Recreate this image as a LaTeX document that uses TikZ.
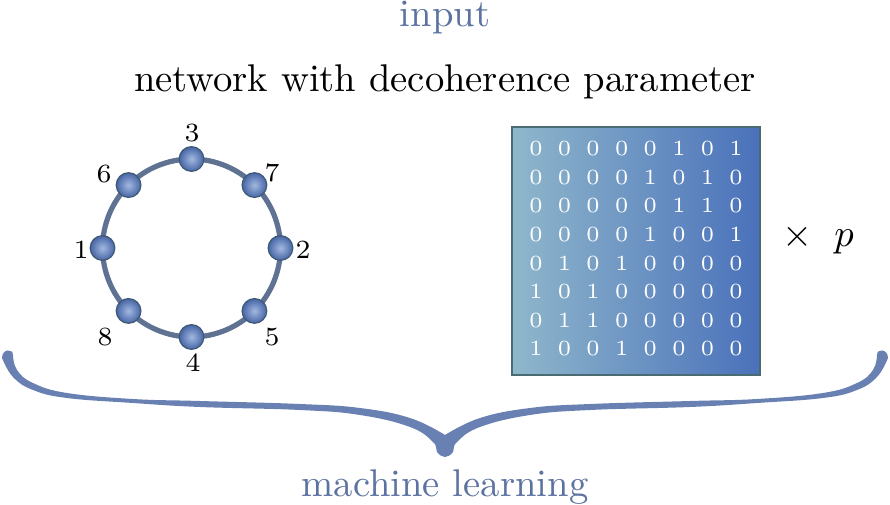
\documentclass[tikz,border=0pt]{standalone}
\usepackage{xcolor}
\usepackage{tikz}
\usetikzlibrary{positioning,matrix,backgrounds}
\definecolor{azulTexto}{HTML}{5C72A0}
\definecolor{azulChave}{HTML}{6881B2}
\definecolor{azulAnel}{HTML}{5F7292}
\definecolor{esferaClara}{HTML}{A2B9E0}
\definecolor{esferaEscura}{HTML}{4765A6}
\definecolor{contornoEsfera}{HTML}{3E5A72}
\definecolor{matrizClara}{HTML}{8FB7CB}
\definecolor{matrizEscura}{HTML}{4A71BA}
\definecolor{contornoMatriz}{HTML}{4B6B73}
\tikzset{
    vertice/.style={
        circle,
        draw=contornoEsfera,
        line width=0.3pt,
        inner sep=0pt,
        minimum size=6.4pt,
        inner color=esferaClara,
        outer color=esferaEscura
    },
    rotulo/.style={inner sep=0pt, font=\fontsize{6.8}{8}\selectfont},
    aresta/.style={draw=azulAnel, line width=1.35pt},
    caixaMatriz/.style={
        rectangle,
        draw=contornoMatriz,
        line width=0.4pt,
        minimum size=64.2pt,
        left color=matrizClara,
        right color=matrizEscura
    },
    elemento/.style={
        inner sep=0pt,
        minimum width=7.4pt,
        minimum height=7.35pt,
        text=white,
        font=\fontsize{5.6}{6.5}\selectfont
    },
    destaque/.style={text=azulTexto},
    chave/.style={fill=azulChave}
}

\begin{document}
\begin{tikzpicture}[x=0.2588pt, y=0.2588pt]
        \useasboundingbox (0,0) rectangle (890,505);
        % titulos
        \node[destaque] (entrada) at (445,487.5) {input};
        \node (titulo) at (445,422.7) {network with decoherence parameter};
        % rede em anel
        \coordinate (anel) at (191.5,257);
        \foreach \n/\a in {2/0,7/45,3/90,6/135,1/180,8/225,4/270,5/315}
            \node[vertice] (v\n) at ([shift={(\a:89)}]anel) {};
        \begin{scope}[on background layer]
            \foreach \a/\b in {1/6,6/3,3/7,7/2,2/5,5/4,4/8,8/1}
                \draw[aresta] (v\a.center) to[bend left=22.5, looseness=0.88] (v\b.center);
        \end{scope}
        \foreach \n/\px/\py in {3/192/372,7/272/332,2/303/255,5/272/168,4/193/142,8/105/168,1/81/255,6/104/331}
            \node[rotulo] (r\n) at (\px,\py) {\n};
        % matriz de adjacencia
        \node[caixaMatriz] (caixa) at (636,254) {};
        \matrix[matrix of nodes, nodes={elemento}, column sep=0pt, row sep=0pt]
            (adj) at ([yshift=0.6pt]caixa.center) {
            0 & 0 & 0 & 0 & 0 & 1 & 0 & 1 \\
            0 & 0 & 0 & 0 & 1 & 0 & 1 & 0 \\
            0 & 0 & 0 & 0 & 0 & 1 & 1 & 0 \\
            0 & 0 & 0 & 0 & 1 & 0 & 0 & 1 \\
            0 & 1 & 0 & 1 & 0 & 0 & 0 & 0 \\
            1 & 0 & 1 & 0 & 0 & 0 & 0 & 0 \\
            0 & 1 & 1 & 0 & 0 & 0 & 0 & 0 \\
            1 & 0 & 0 & 1 & 0 & 0 & 0 & 0 \\
        };
        \node[right=2.2pt of caixa, yshift=3.1pt] (fator) {$\times\;\;p$};
        % chave
        \fill[chave] plot[smooth, tension=0.7] coordinates {(445,70) (410,87) (360,97) (300,101)
                (200,104) (133,106) (67,112) (33,122) (17,135) (13,150)}
            .. controls (13,157) and (2,156) .. (2,147)
            -- plot[smooth, tension=0.7] coordinates {(2,147) (13,128) (33,115) (67,107) (133,102)
                (200,98) (300,95) (360,90) (410,78) (433,63) (437,53) (445,48) (453,53) (457,63)
                (480,78) (530,90) (590,95) (690,98) (757,102) (823,107) (857,115) (877,128) (888,147)}
            .. controls (888,156) and (877,157) .. (877,150)
            -- plot[smooth, tension=0.7] coordinates {(877,150) (873,135) (857,122) (823,112)
                (757,106) (690,104) (590,101) (530,97) (480,87) (445,70)}
            -- cycle;
        \node[destaque] (ml) at (445,18) {machine learning};
    \end{tikzpicture}
\end{document}
